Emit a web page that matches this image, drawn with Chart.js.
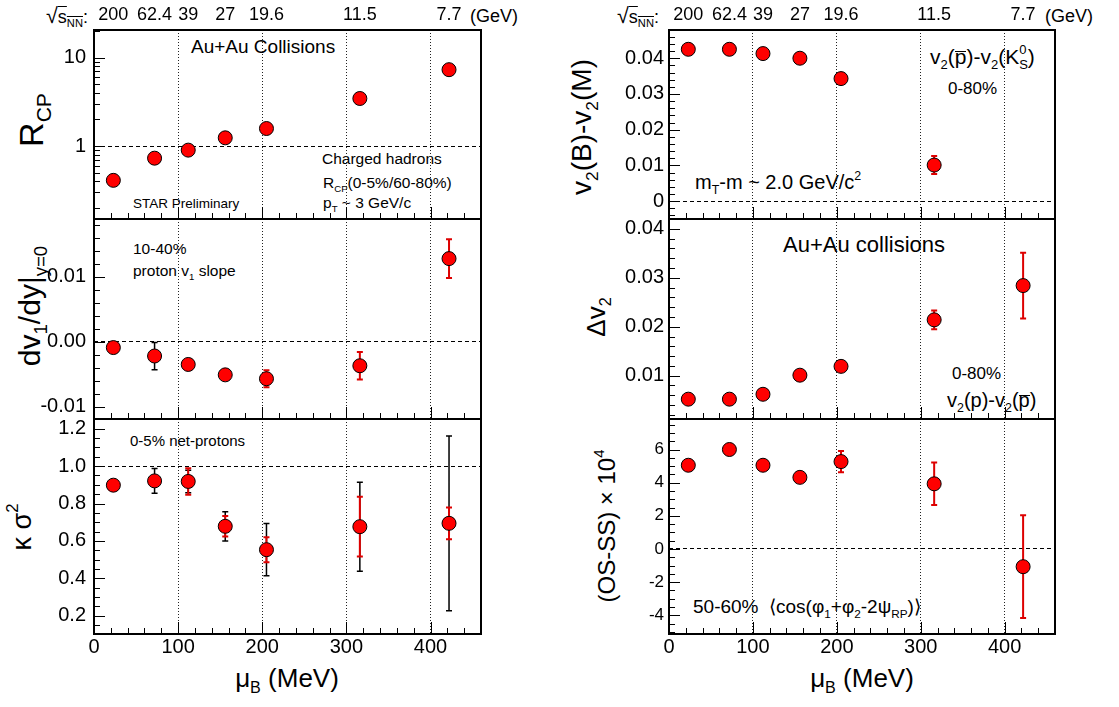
<!DOCTYPE html>
<html>
<head>
<meta charset="utf-8">
<script src="https://cdn.jsdelivr.net/npm/chart.js@4.4.0/dist/chart.umd.min.js"></script>
<style>
body { margin: 0; background: #fff; }
#page { position: relative; width: 1119px; height: 707px; overflow: hidden;
        font-family: "Liberation Sans", Arial, Helvetica, sans-serif; color: #000; }
#page canvas { position: absolute; }
.t { position: absolute; white-space: nowrap; line-height: 1; }
.rot { transform: translate(-50%, -50%) rotate(-90deg); }
.ctr { transform: translateX(-50%); }
.sb { font-size: .62em; position: relative; top: .4em; }
.sp { font-size: .62em; position: relative; top: -.75em; }
.ov { text-decoration: overline; }
.bar { display: inline-block; line-height: .45; border-top: 1.5px solid #000; }
.rad { font-size: 1.2em; }
.back { margin-left: -.56em; }
</style>
</head>
<body>
<div id="page">
  <!-- top energy axis words -->
  <div class="t" style="left:46px;top:5px;font-size:18px"><span class="rad">√</span><span class="ov">s<span class="sb">NN</span></span>:</div>
  <div class="t" style="left:470px;top:7px;font-size:18px">(GeV)</div>
  <div class="t" style="left:617px;top:5px;font-size:18px"><span class="rad">√</span><span class="ov">s<span class="sb">NN</span></span>:</div>
  <div class="t" style="left:1045px;top:7px;font-size:18px">(GeV)</div>

  <!-- left column annotations -->
  <div class="t" style="left:191px;top:37px;font-size:19px">Au+Au Collisions</div>
  <div class="t" style="left:322px;top:151px;font-size:15.5px">Charged hadrons</div>
  <div class="t" style="left:323px;top:175px;font-size:15.5px">R<span class="sb">CP</span>(0-5%/60-80%)</div>
  <div class="t" style="left:323px;top:195px;font-size:15.5px">p<span class="sb">T</span> ~ 3 GeV/c</div>
  <div class="t" style="left:133px;top:197px;font-size:13.5px">STAR Preliminary</div>
  <div class="t" style="left:133px;top:241px;font-size:15.5px">10-40%</div>
  <div class="t" style="left:133px;top:263px;font-size:15.5px">proton v<span class="sb">1</span> slope</div>
  <div class="t" style="left:130px;top:433px;font-size:15px">0-5% net-protons</div>

  <!-- right column annotations -->
  <div class="t" style="left:930px;top:46px;font-size:21px">v<span class="sb">2</span>(<span class="bar">p</span>)-v<span class="sb">2</span>(K<span class="sp">0</span><span class="sb back">S</span>)</div>
  <div class="t" style="left:948px;top:80px;font-size:17px">0-80%</div>
  <div class="t" style="left:695px;top:172px;font-size:20px">m<span class="sb">T</span>-m ~ 2.0 GeV/c<span class="sp">2</span></div>
  <div class="t" style="left:783px;top:234px;font-size:22px">Au+Au collisions</div>
  <div class="t" style="left:952px;top:365px;font-size:17px">0-80%</div>
  <div class="t" style="left:947px;top:390px;font-size:20px">v<span class="sb">2</span>(p)-v<span class="sb">2</span>(<span class="bar">p</span>)</div>
  <div class="t" style="left:693px;top:597px;font-size:19px">50-60% &nbsp;⟨cos(φ<span class="sb">1</span>+φ<span class="sb">2</span>-2ψ<span class="sb">RP</span>)⟩</div>

  <!-- axis titles -->
  <div class="t rot" style="left:31px;top:120px;font-size:34px">R<span class="sb">CP</span></div>
  <div class="t rot" style="left:30px;top:306px;font-size:30px">dv<span class="sb">1</span>/dy|<span class="sb">y=0</span></div>
  <div class="t rot" style="left:22px;top:527px;font-size:27px">κ σ<span class="sp">2</span></div>
  <div class="t rot" style="left:582px;top:127px;font-size:28px">v<span class="sb">2</span>(B)-v<span class="sb">2</span>(M)</div>
  <div class="t rot" style="left:596px;top:317px;font-size:26px">Δv<span class="sb">2</span></div>
  <div class="t rot" style="left:607px;top:526px;font-size:24px">(OS-SS) × 10<span class="sp">4</span></div>
  <div class="t ctr" style="left:287px;top:665px;font-size:26px">μ<span class="sb">B</span> (MeV)</div>
  <div class="t ctr" style="left:862px;top:665px;font-size:26px">μ<span class="sb">B</span> (MeV)</div>
</div>

<script>
// beam energies and baryon chemical potential
const muB = [23, 72, 112, 156, 205, 316, 422];
const energies = ['200', '62.4', '39', '27', '19.6', '11.5', '7.7'];

// left column
const rcp = [0.41, 0.73, 0.90, 1.24, 1.58, 3.45, 7.3];
const dv1 = [-0.0009, -0.0022, -0.0035, -0.0051, -0.0057, -0.0037, 0.0128];
const dv1Stat = [0, 0.0021, 0, 0, 0, 0, 0];
const dv1Sys = [0, 0, 0, 0, 0.0013, 0.0021, 0.003];
const kappa = [0.898, 0.921, 0.918, 0.678, 0.553, 0.676, 0.694];
const kappaStat = [0, 0.066, 0.06, 0.078, 0.14, 0.238, 0.467];
const kappaSys = [0, 0, 0.071, 0.055, 0.067, 0.16, 0.085];

// right column
const v2BM = [0.0425, 0.0425, 0.0413, 0.0400, 0.0343, 0.0101];
const v2BMSys = [0, 0, 0, 0, 0, 0.0025];
const dv2 = [0.0052, 0.0052, 0.0062, 0.0101, 0.0119, 0.0214, 0.0284];
const dv2Sys = [0, 0, 0, 0, 0, 0.0019, 0.0067];
const cme = [5.05, 6.0, 5.05, 4.32, 5.27, 3.93, -1.07];
const cmeSys = [0, 0, 0, 0, 0.64, 1.28, 3.1];

// axis tick values
const xMajor = [0, 100, 200, 300, 400];
const rcpTicks = [1, 10];
const dv1Ticks = [-0.01, 0, 0.01];
const kappaTicks = [0.2, 0.4, 0.6, 0.8, 1.0, 1.2];
const v2BMTicks = [0, 0.01, 0.02, 0.03, 0.04];
const dv2Ticks = [0.01, 0.02, 0.03, 0.04];
const cmeTicks = [-4, -2, 0, 2, 4, 6];

Chart.defaults.font.family = '"Liberation Sans", Arial, Helvetica, sans-serif';
Chart.defaults.color = '#000';

const page = document.getElementById('page');
const cols = {
    left: { x: 0, w: 500, frameL: 94, frameR: 481, pad: 8 },
    right: { x: 560, w: 559, frameL: 669, frameR: 1055, pad: 5 }
};
const rows = [
    { top: 0, h: 219, topAxis: 30, bottomAxis: 0 },
    { top: 219, h: 200, topAxis: 0, bottomAxis: 0 },
    { top: 419, h: 288, topAxis: 0, bottomAxis: 73 }
];

function minorTicks(min, max, step, major) {
    const out = [];
    for (let k = Math.ceil(min / step - 1e-9); k * step <= max + 1e-12; k++) {
        const v = +(k * step).toFixed(6);
        if (!major.some(m => Math.abs(m - v) < step / 10)) out.push(v);
    }
    return out;
}

// frame, inward ticks and error bars, the ROOT way
function framePlugin(p) {
    return {
        id: 'rootFrame',
        beforeDatasetsDraw(chart) {
            const ctx = chart.ctx, xs = chart.scales.x, ys = chart.scales.y;
            chart.data.datasets.forEach(ds => {
                [['statErr', '#000', 1.5], ['sysErr', '#dd0000', 2]].forEach(([key, color, lw]) => {
                    const err = ds[key];
                    if (!err) return;
                    ctx.save();
                    ctx.strokeStyle = color;
                    ctx.lineWidth = lw;
                    ctx.beginPath();
                    ds.data.forEach((pt, i) => {
                        if (!err[i]) return;
                        const x = xs.getPixelForValue(pt.x);
                        const y1 = ys.getPixelForValue(pt.y + err[i]);
                        const y2 = ys.getPixelForValue(pt.y - err[i]);
                        ctx.moveTo(x, y1); ctx.lineTo(x, y2);
                        ctx.moveTo(x - 3, y1); ctx.lineTo(x + 3, y1);
                        ctx.moveTo(x - 3, y2); ctx.lineTo(x + 3, y2);
                    });
                    ctx.stroke();
                    ctx.restore();
                });
            });
        },
        afterDraw(chart) {
            const ctx = chart.ctx, a = chart.chartArea, xs = chart.scales.x, ys = chart.scales.y;
            ctx.save();
            ctx.strokeStyle = '#000';
            ctx.lineWidth = 1;
            ctx.beginPath();
            p.major.forEach(v => {
                const y = Math.round(ys.getPixelForValue(v)) + 0.5;
                ctx.moveTo(a.left, y); ctx.lineTo(a.left + 11, y);
            });
            p.minor.forEach(v => {
                const y = Math.round(ys.getPixelForValue(v)) + 0.5;
                ctx.moveTo(a.left, y); ctx.lineTo(a.left + 6, y);
            });
            for (let v = 20; v < 460; v += 20) {
                const x = Math.round(xs.getPixelForValue(v)) + 0.5;
                ctx.moveTo(x, a.bottom); ctx.lineTo(x, a.bottom - (v % 100 === 0 ? 12 : 6));
            }
            ctx.stroke();
            ctx.lineWidth = 2;
            ctx.strokeRect(a.left, a.top, a.right - a.left, a.bottom - a.top);
            ctx.restore();
        }
    };
}

function makePanel(p) {
    const col = cols[p.col], row = rows[p.row];
    const canvas = document.createElement('canvas');
    canvas.width = col.w;
    canvas.height = row.h;
    canvas.style.left = col.x + 'px';
    canvas.style.top = row.top + 'px';
    page.appendChild(canvas);

    const scales = {
        x: {
            type: 'linear', min: 0, max: 460,
            afterBuildTicks: s => { s.ticks = xMajor.map(v => ({ value: v })); },
            afterFit: s => { s.height = row.bottomAxis; s.paddingLeft = 0; s.paddingRight = 0; },
            ticks: { display: row.bottomAxis > 0, font: { size: 20 }, padding: 1, maxRotation: 0, autoSkip: false },
            grid: {
                drawTicks: false, lineWidth: 1,
                color: c => (c.tick && c.tick.value > 0) ? '#222' : 'rgba(0,0,0,0)'
            },
            border: { display: false, dash: [1, 2] }
        },
        y: {
            type: p.log ? 'logarithmic' : 'linear', min: p.min, max: p.max,
            afterBuildTicks: s => { s.ticks = p.major.map(v => ({ value: v })); },
            afterFit: s => { s.width = col.frameL - col.x; s.paddingTop = 0; s.paddingBottom = 0; },
            ticks: { font: { size: p.font || 20 }, padding: col.pad, autoSkip: false, callback: p.fmt },
            grid: {
                drawTicks: false, lineWidth: 1,
                color: c => (p.ref !== undefined && c.tick && Math.abs(c.tick.value - p.ref) < 1e-9) ? '#000' : 'rgba(0,0,0,0)'
            },
            border: { display: false, dash: [4, 3] }
        }
    };
    if (row.topAxis) {
        scales.x2 = {
            type: 'linear', axis: 'x', position: 'top', min: 0, max: 460,
            afterBuildTicks: s => { s.ticks = muB.map(v => ({ value: v })); },
            afterFit: s => { s.height = row.topAxis; s.paddingLeft = 0; s.paddingRight = 0; },
            ticks: { font: { size: 18 }, padding: 4, maxRotation: 0, autoSkip: false, callback: (v, i) => energies[i] },
            grid: { display: false, drawTicks: false },
            border: { display: false }
        };
    }

    return new Chart(canvas.getContext('2d'), {
        type: 'scatter',
        data: {
            datasets: [{
                data: p.values.map((y, i) => ({ x: muB[i], y: y })),
                statErr: p.stat,
                sysErr: p.sys,
                backgroundColor: '#ff0000',
                borderColor: '#000',
                borderWidth: 1,
                pointRadius: 7,
                pointHoverRadius: 7
            }]
        },
        options: {
            responsive: false,
            animation: false,
            devicePixelRatio: 1,
            events: [],
            layout: { autoPadding: false, padding: { left: 0, top: 0, bottom: 0, right: col.x + col.w - col.frameR } },
            scales: scales,
            plugins: { legend: { display: false }, tooltip: { enabled: false } }
        },
        plugins: [framePlugin(p)]
    });
}

makePanel({ col: 'left', row: 0, log: true, min: 0.15, max: 20.5, values: rcp,
    major: rcpTicks, minor: [0.2, 0.3, 0.4, 0.5, 0.6, 0.7, 0.8, 0.9, 2, 3, 4, 5, 6, 7, 8, 9, 20],
    ref: 1, fmt: v => String(v) });
makePanel({ col: 'left', row: 1, min: -0.0119, max: 0.0189, values: dv1, stat: dv1Stat, sys: dv1Sys,
    major: dv1Ticks, minor: minorTicks(-0.0119, 0.0189, 0.002, dv1Ticks),
    ref: 0, fmt: v => v.toFixed(2) });
makePanel({ col: 'left', row: 2, min: 0.102, max: 1.252, values: kappa, stat: kappaStat, sys: kappaSys,
    major: kappaTicks, minor: minorTicks(0.102, 1.252, 0.05, kappaTicks),
    ref: 1.0, fmt: v => v.toFixed(1) });
makePanel({ col: 'right', row: 0, min: -0.005, max: 0.0479, values: v2BM, sys: v2BMSys,
    major: v2BMTicks, minor: minorTicks(-0.005, 0.0479, 0.002, v2BMTicks),
    ref: 0, fmt: v => v === 0 ? '0' : v.toFixed(2) });
makePanel({ col: 'right', row: 1, min: 0.00115, max: 0.042, values: dv2, sys: dv2Sys,
    major: dv2Ticks, minor: minorTicks(0.00115, 0.042, 0.002, dv2Ticks),
    fmt: v => v.toFixed(2) });
makePanel({ col: 'right', row: 2, min: -5.13, max: 7.84, values: cme, sys: cmeSys, font: 17,
    major: cmeTicks, minor: minorTicks(-5.13, 7.84, 0.5, cmeTicks),
    ref: 0, fmt: v => String(v) });
</script>
</body>
</html>
